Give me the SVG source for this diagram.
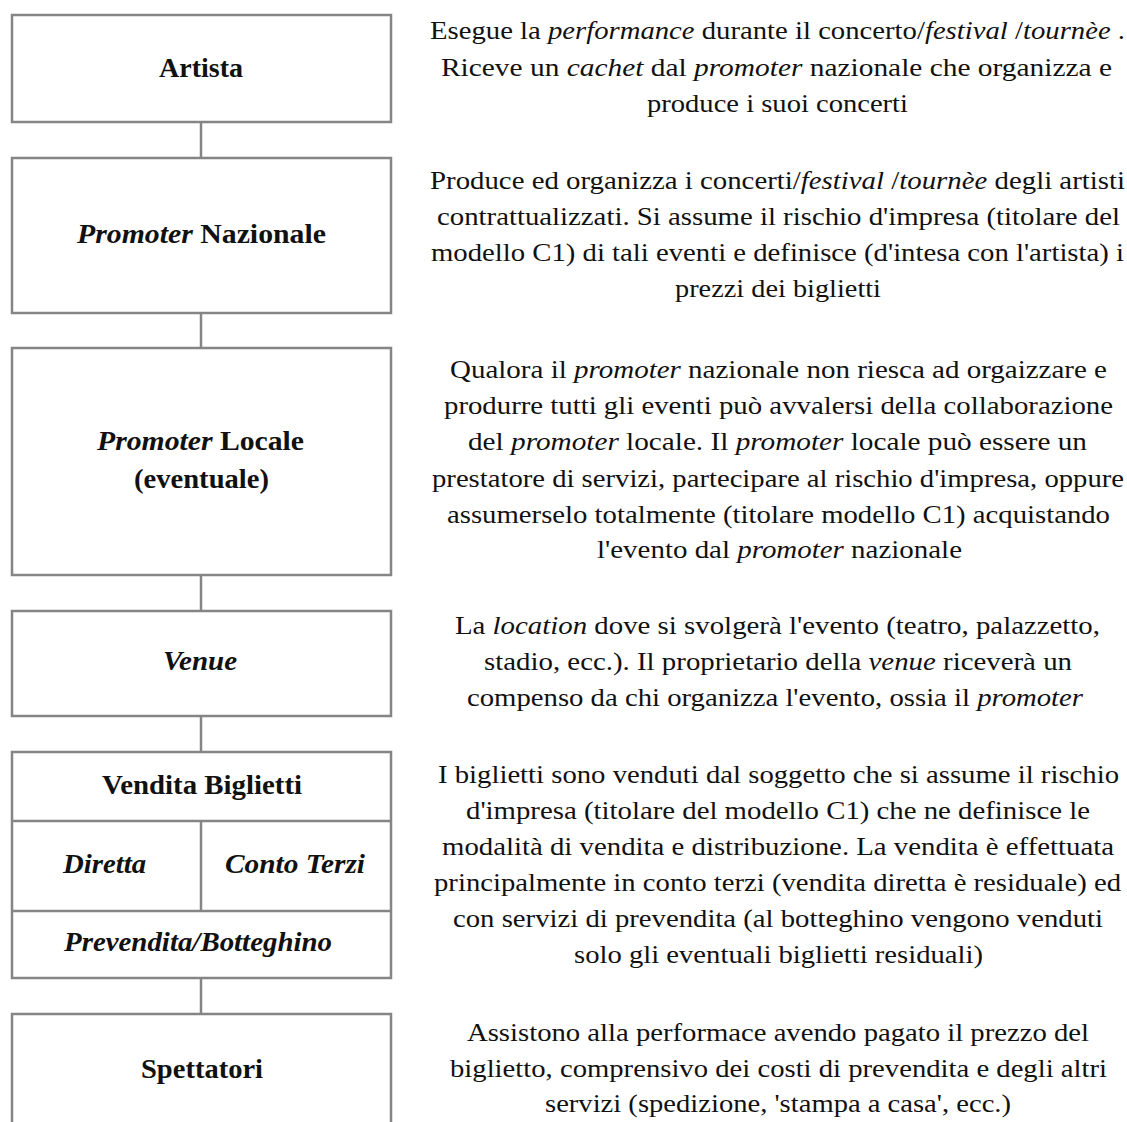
<svg xmlns="http://www.w3.org/2000/svg" width="1127" height="1122" viewBox="0 0 1127 1122">
<style>
.box{fill:#fff;stroke:#858585;stroke-width:2.5}
.ln{stroke:#858585;stroke-width:2.5;fill:none}
.l{font-family:"Liberation Serif","Times New Roman",Times,serif;font-size:28px;font-weight:bold;fill:#111}
.d{font-family:"Liberation Serif","Times New Roman",Times,serif;font-size:26px;fill:#111}
.i{font-style:italic}
</style>
<rect width="1127" height="1122" fill="#fff"/>
<g id="connectors">
<line class="ln" x1="201" y1="122" x2="201" y2="158"/>
<line class="ln" x1="201" y1="313" x2="201" y2="348"/>
<line class="ln" x1="201" y1="575" x2="201" y2="611"/>
<line class="ln" x1="201" y1="716" x2="201" y2="752"/>
<line class="ln" x1="201" y1="978" x2="201" y2="1014"/>
</g>
<g id="artista">
<rect class="box" x="12" y="15" width="379" height="107"/>
<text class="l" x="159" y="77" textLength="84" lengthAdjust="spacingAndGlyphs">Artista</text>
</g>
<g id="promoter-nazionale">
<rect class="box" x="12" y="158" width="379" height="155"/>
<text class="l" x="77" y="243" textLength="249" lengthAdjust="spacingAndGlyphs"><tspan class="i">Promoter</tspan>  Nazionale</text>
</g>
<g id="promoter-locale">
<rect class="box" x="12" y="348" width="379" height="227"/>
<text class="l" x="97" y="450" textLength="207" lengthAdjust="spacingAndGlyphs"><tspan class="i">Promoter</tspan>  Locale</text>
<text class="l" x="134" y="488" textLength="135" lengthAdjust="spacingAndGlyphs">(eventuale)</text>
</g>
<g id="venue">
<rect class="box" x="12" y="611" width="379" height="105"/>
<text class="l i" x="163" y="670" textLength="74" lengthAdjust="spacingAndGlyphs">Venue</text>
</g>
<g id="vendita-biglietti">
<rect class="box" x="12" y="752" width="379" height="226"/>
<line class="ln" x1="12" y1="821" x2="391" y2="821"/>
<line class="ln" x1="12" y1="911" x2="391" y2="911"/>
<line class="ln" x1="201" y1="821" x2="201" y2="911"/>
<text class="l" x="102" y="794" textLength="200" lengthAdjust="spacingAndGlyphs">Vendita Biglietti</text>
<text class="l i" x="63" y="873" textLength="83" lengthAdjust="spacingAndGlyphs">Diretta</text>
<text class="l i" x="225" y="873" textLength="140" lengthAdjust="spacingAndGlyphs">Conto Terzi</text>
<text class="l i" x="64" y="951" textLength="268" lengthAdjust="spacingAndGlyphs">Prevendita/Botteghino</text>
</g>
<g id="spettatori">
<rect class="box" x="12" y="1014" width="379" height="130"/>
<text class="l" x="141" y="1078" textLength="122" lengthAdjust="spacingAndGlyphs">Spettatori</text>
</g>
<g id="desc-artista">
<text class="d" x="430" y="39" textLength="695" lengthAdjust="spacingAndGlyphs">Esegue la <tspan class="i">performance</tspan>  durante il concerto/<tspan class="i">festival</tspan> /<tspan class="i">tournèe</tspan> .</text>
<text class="d" x="441" y="76" textLength="671" lengthAdjust="spacingAndGlyphs">Riceve un <tspan class="i">cachet</tspan>  dal <tspan class="i">promoter</tspan>  nazionale che organizza e</text>
<text class="d" x="647" y="112" textLength="261" lengthAdjust="spacingAndGlyphs">produce i suoi concerti</text>
</g>
<g id="desc-promoter-nazionale">
<text class="d" x="430" y="189" textLength="695" lengthAdjust="spacingAndGlyphs">Produce ed organizza i concerti/<tspan class="i">festival</tspan> /<tspan class="i">tournèe</tspan>  degli artisti</text>
<text class="d" x="437" y="225" textLength="683" lengthAdjust="spacingAndGlyphs">contrattualizzati. Si assume il rischio d'impresa (titolare del</text>
<text class="d" x="431" y="261" textLength="693" lengthAdjust="spacingAndGlyphs">modello C1) di tali eventi e definisce (d'intesa con l'artista) i</text>
<text class="d" x="675" y="297" textLength="206" lengthAdjust="spacingAndGlyphs">prezzi dei biglietti</text>
</g>
<g id="desc-promoter-locale">
<text class="d" x="450" y="378" textLength="657" lengthAdjust="spacingAndGlyphs">Qualora il <tspan class="i">promoter</tspan>  nazionale non riesca ad orgaizzare e</text>
<text class="d" x="444" y="414" textLength="669" lengthAdjust="spacingAndGlyphs">produrre tutti gli eventi può avvalersi della collaborazione</text>
<text class="d" x="468" y="450" textLength="619" lengthAdjust="spacingAndGlyphs">del <tspan class="i">promoter</tspan>  locale. Il <tspan class="i">promoter</tspan>  locale può essere un</text>
<text class="d" x="432" y="487" textLength="692" lengthAdjust="spacingAndGlyphs">prestatore di servizi, partecipare al rischio d'impresa, oppure</text>
<text class="d" x="447" y="523" textLength="663" lengthAdjust="spacingAndGlyphs">assumerselo totalmente (titolare modello C1) acquistando</text>
<text class="d" x="597" y="558" textLength="365" lengthAdjust="spacingAndGlyphs">l'evento dal <tspan class="i">promoter</tspan>  nazionale</text>
</g>
<g id="desc-venue">
<text class="d" x="455" y="634" textLength="645" lengthAdjust="spacingAndGlyphs">La <tspan class="i">location</tspan>  dove si svolgerà l'evento (teatro, palazzetto,</text>
<text class="d" x="484" y="670" textLength="588" lengthAdjust="spacingAndGlyphs">stadio, ecc.). Il proprietario della <tspan class="i">venue</tspan>  riceverà un</text>
<text class="d" x="467" y="706" textLength="616" lengthAdjust="spacingAndGlyphs">compenso da chi organizza l'evento, ossia il <tspan class="i">promoter</tspan></text>
</g>
<g id="desc-vendita">
<text class="d" x="438" y="783" textLength="681" lengthAdjust="spacingAndGlyphs">I biglietti sono venduti dal soggetto che si assume il rischio</text>
<text class="d" x="466" y="819" textLength="624" lengthAdjust="spacingAndGlyphs">d'impresa (titolare del modello C1) che ne definisce le</text>
<text class="d" x="442" y="855" textLength="672" lengthAdjust="spacingAndGlyphs">modalità di vendita e distribuzione. La vendita è effettuata</text>
<text class="d" x="434" y="891" textLength="687" lengthAdjust="spacingAndGlyphs">principalmente in conto terzi (vendita diretta è residuale) ed</text>
<text class="d" x="453" y="927" textLength="650" lengthAdjust="spacingAndGlyphs">con servizi di prevendita (al botteghino vengono venduti</text>
<text class="d" x="574" y="963" textLength="409" lengthAdjust="spacingAndGlyphs">solo gli eventuali biglietti residuali)</text>
</g>
<g id="desc-spettatori">
<text class="d" x="467" y="1041" textLength="622" lengthAdjust="spacingAndGlyphs">Assistono alla performace avendo pagato il prezzo del</text>
<text class="d" x="450" y="1077" textLength="657" lengthAdjust="spacingAndGlyphs">biglietto, comprensivo dei costi di prevendita e degli altri</text>
<text class="d" x="545" y="1112" textLength="466" lengthAdjust="spacingAndGlyphs">servizi (spedizione, 'stampa a casa', ecc.)</text>
</g>
</svg>
